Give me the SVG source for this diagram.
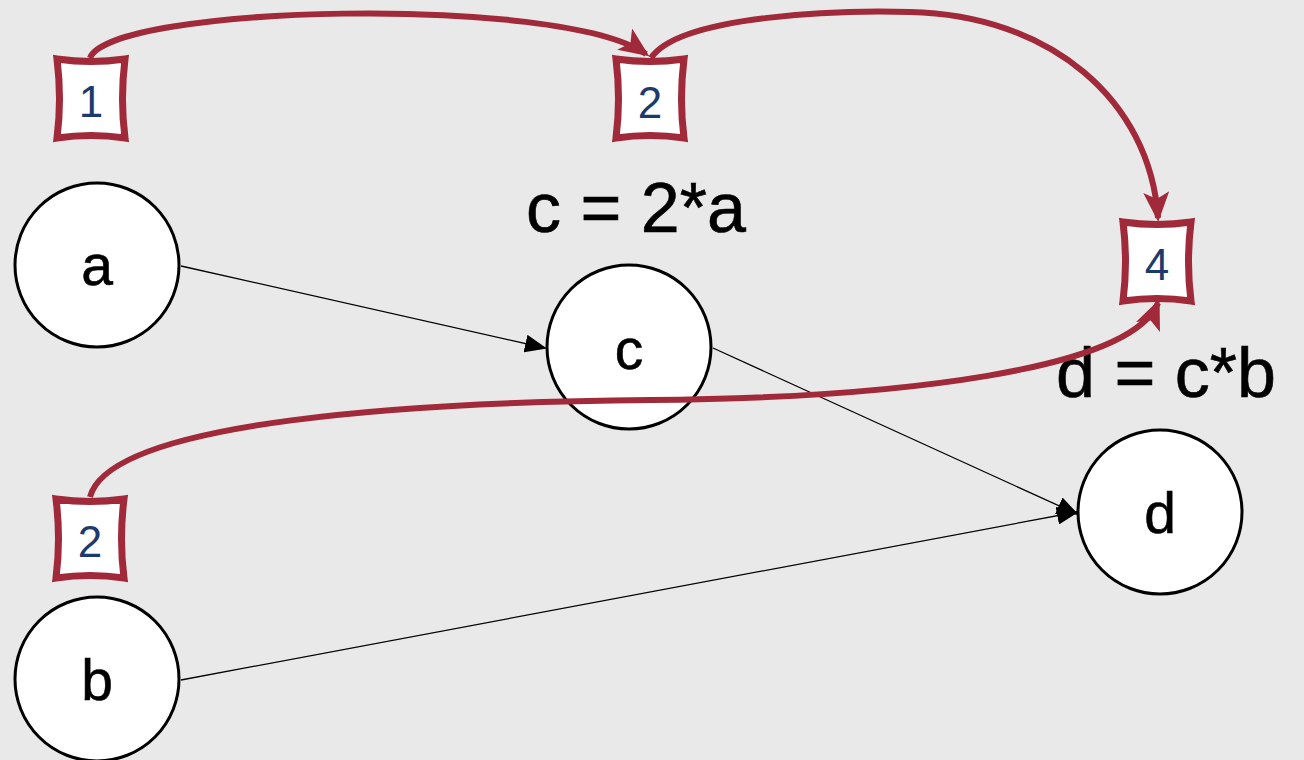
<svg xmlns="http://www.w3.org/2000/svg" width="1304" height="760" viewBox="0 0 1304 760">
<style>
.node circle{fill:#fff;stroke:#000;stroke-width:3}
.node text{font-family:"Liberation Sans",Arial,sans-serif;font-size:57px;text-anchor:middle;fill:#000;stroke:#000;stroke-width:0.6}
.eq{font-family:"Liberation Sans",Arial,sans-serif;font-size:70px;fill:#000;stroke:#000;stroke-width:0.6}
.box use{fill:#fff;stroke:#a0293a;stroke-width:7}
.box text{font-family:"Liberation Sans",Arial,sans-serif;font-size:44px;text-anchor:middle;fill:#1d3a6e}
.edge{fill:none;stroke:#000;stroke-width:1.3}
.red{fill:none;stroke:#a0293a;stroke-width:6}
</style>
<defs>
<marker id="ah" markerWidth="22" markerHeight="18" refX="20" refY="9" orient="auto" markerUnits="userSpaceOnUse">
<path d="M0,0 L22,9 L0,18 Z" fill="#000"/>
</marker>
<marker id="rh" markerWidth="30" markerHeight="26" refX="26" refY="13" orient="auto" markerUnits="userSpaceOnUse">
<path d="M0,0 L30,13 L0,26 L7,13 Z" fill="#a0293a"/>
</marker>
<path id="bx" d="M0,0 Q34,5 68,0 Q63,40 68,79 Q34,74 0,79 Q5,40 0,0 Z"/>
</defs>
<rect width="1304" height="760" fill="#e9e9e9"/>
<g id="connectors">
<path class="edge" d="M181,266 L545,348" marker-end="url(#ah)"/>
<path class="edge" d="M713,348 L1077,514" marker-end="url(#ah)"/>
<path class="edge" d="M181,680 L1077,512" marker-end="url(#ah)"/>
</g>
<g id="node-a" class="node"><circle cx="97" cy="265" r="82"/><text x="97" y="285">a</text></g>
<g id="node-c" class="node"><circle cx="629" cy="347" r="82"/><text x="629" y="369">c</text></g>
<g id="node-d" class="node"><circle cx="1160" cy="512" r="82"/><text x="1160" y="533">d</text></g>
<g id="node-b" class="node"><circle cx="97" cy="679" r="82"/><text x="97" y="700">b</text></g>
<text class="eq" x="526" y="232">c = 2*a</text>
<text class="eq" x="1056" y="397">d = c*b</text>
<g id="red-connectors">
<path class="red" d="M90,58 C110,5 560,-6 646,54" marker-end="url(#rh)"/>
<path class="red" d="M651,58 C680,15 840,10 910,12 C1050,15 1150,100 1158,218" marker-end="url(#rh)"/>
<path class="red" d="M90,497 C110,420 420,402 650,400 C900,398 1130,370 1158,303" marker-end="url(#rh)"/>
</g>
<g id="box-1" class="box"><use href="#bx" x="57" y="59"/><text x="91" y="117">1</text></g>
<g id="box-2a" class="box"><use href="#bx" x="616" y="59"/><text x="650" y="118">2</text></g>
<g id="box-4" class="box"><use href="#bx" x="1123" y="222"/><text x="1157" y="280">4</text></g>
<g id="box-2b" class="box"><use href="#bx" x="56" y="499"/><text x="90" y="557">2</text></g>
</svg>
